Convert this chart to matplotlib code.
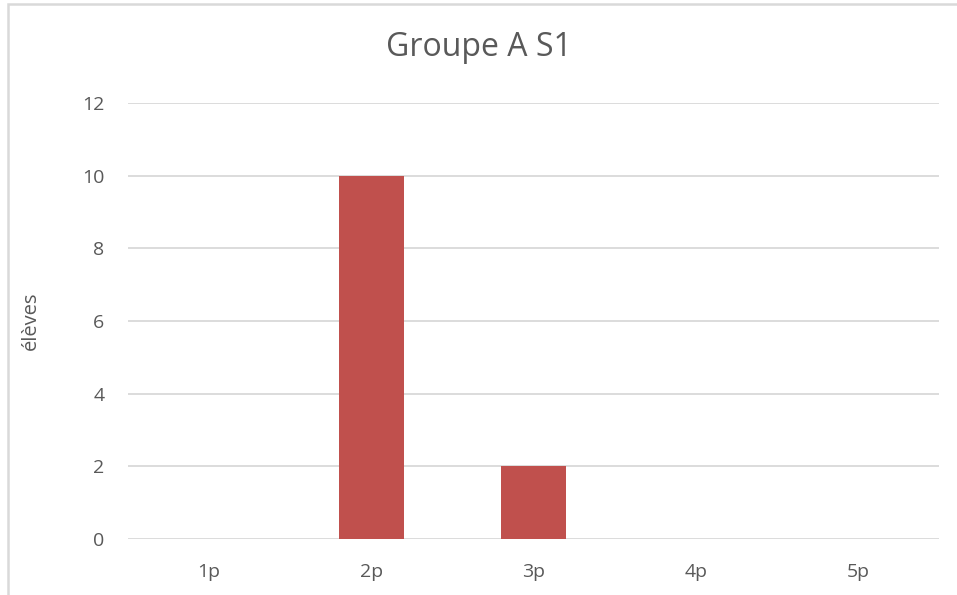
import matplotlib.pyplot as plt
from matplotlib.patches import Rectangle

categories = ["1p", "2p", "3p", "4p", "5p"]
values = [0, 10, 2, 0, 0]
yticks = [0, 2, 4, 6, 8, 10, 12]

plt.rcParams["font.family"] = ["Open Sans", "DejaVu Sans"]
txt = "#595959"
grid = "#d9d9d9"

fig = plt.figure(figsize=(9.57, 5.95), dpi=100)
ax = fig.add_axes([128 / 957, 1 - 539 / 595, (939 - 128) / 957, (539 - 103) / 595])

x = range(len(categories))
ax.bar(x, values, width=0.4, color="#c0504d", zorder=3)
ax.set_xlim(-0.5, len(categories) - 0.5)
ax.set_ylim(0, 12)
ax.set_yticks(yticks)
ax.set_xticks(list(x))
ax.set_xticklabels(categories)
ax.yaxis.grid(True, color=grid, linewidth=1.3, zorder=0)
ax.tick_params(length=0, labelsize=14, colors=txt)
ax.tick_params(axis="y", pad=17)
ax.tick_params(axis="x", pad=17)
for s in ax.spines.values():
    s.set_visible(False)
ax.set_ylabel("élèves", fontsize=14.5, color=txt)
ax.yaxis.set_label_coords(-0.107, 0.5)
fig.text(0.5, 1 - 48 / 595, "Groupe A S1", ha="center", va="center",
         fontsize=23, color=txt)

# outer chart frame (only top and left visible in the crop)
fig.patches.append(Rectangle((8 / 957, -0.1), 1.2, 1.1 - 4 / 595,
                             transform=fig.transFigure, fill=False,
                             edgecolor=grid, linewidth=1.8))

fig.savefig("out.png", dpi=100)
